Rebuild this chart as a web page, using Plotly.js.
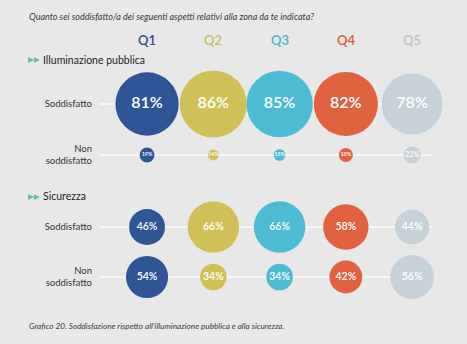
<!DOCTYPE html>
<html>
<head>
<meta charset="utf-8">
<script src="https://cdn.plot.ly/plotly-3.0.1.min.js"></script>
<style>html,body{margin:0;padding:0;background:#e8e8e8;}#chart{width:467px;height:344px;}</style>
</head>
<body>
<div id="chart"></div>
<script>
const quarters = ['Q1', 'Q2', 'Q3', 'Q4', 'Q5'];
const rowLabels = ['Soddisfatto', 'Non<br>soddisfatto'];
const sectionTitles = ['Illuminazione pubblica', 'Sicurezza'];
const illumSodd = [81, 86, 85, 82, 78];
const illumNon = [19, 14, 15, 18, 22];
const sicSodd = [46, 66, 66, 58, 44];
const sicNon = [54, 34, 34, 42, 56];
const titleText = 'Quanto sei soddisfatto/a dei seguenti aspetti relativi alla zona da te indicata?';
const footText = 'Grafico 20. Soddisfazione rispetto all\u2019illuminazione pubblica e alla sicurezza.';

const colors = ['#2f5597', '#cfc158', '#4dbbd3', '#e0623f', '#c6d2d7'];
const headColors = ['#2e4a8a', '#c9bb55', '#4ab3cc', '#de5a3a', '#b8c3c8'];
const W = 467, H = 344;
const FONT = 'Lato, "Open Sans", sans-serif';

function makeTrace(sodd, non, big, yaxis) {
  const x = quarters.concat(quarters);
  const y = quarters.map(() => 0).concat(quarters.map(() => 1));
  const vals = sodd.concat(non);
  const fs = vals.map(v => big ? (v >= 50 ? 16 : (v >= 20 ? 7 : 5.5)) : 10.5);
  return {
    type: 'scatter', mode: 'markers+text', x: x, y: y, yaxis: yaxis, xaxis: 'x',
    text: vals.map(v => v + '%'),
    textposition: 'middle center',
    textfont: {color: '#ffffff', size: fs, family: FONT, weight: 600},
    marker: {size: vals, sizemode: 'diameter', sizeref: 1.28,
             color: colors.concat(colors), opacity: 1, line: {width: 0}},
    cliponaxis: false, hoverinfo: 'skip', showlegend: false
  };
}

const data = [
  makeTrace(illumSodd, illumNon, true, 'y'),
  makeTrace(sicSodd, sicNon, false, 'y2')
];

const yax = (dom) => ({
  domain: dom, range: [1.5, -0.5], tickvals: [0, 1], ticktext: rowLabels,
  showgrid: true, gridcolor: '#f6f6f6', gridwidth: 1.5, zeroline: false,
  showline: false, ticks: '', ticklabelstandoff: 7,
  tickfont: {family: FONT, size: 9.5, color: '#333333'}
});

const annotations = [];
quarters.forEach((q, i) => annotations.push({
  xref: 'x', yref: 'paper', x: q, y: 1 - 40 / H, text: q, showarrow: false,
  xanchor: 'center', yanchor: 'middle',
  font: {family: FONT, size: 13, color: headColors[i], weight: 600}
}));
const secY = [60, 196];
sectionTitles.forEach((t, i) => {
  annotations.push({xref: 'paper', yref: 'paper', x: 26 / W, y: 1 - secY[i] / H,
    text: '\u25B6\u25B6', showarrow: false, xanchor: 'left', yanchor: 'middle',
    font: {family: 'DejaVu Sans', size: 7.5, color: '#5cbdb3'}});
  annotations.push({xref: 'paper', yref: 'paper', x: 41 / W, y: 1 - secY[i] / H,
    text: t, showarrow: false, xanchor: 'left', yanchor: 'middle',
    font: {family: FONT, size: 10.5, color: '#1e1e1e', weight: 400}});
});
annotations.push({xref: 'paper', yref: 'paper', x: 27 / W, y: 1 - 17 / H, text: titleText,
  showarrow: false, xanchor: 'left', yanchor: 'middle',
  font: {family: FONT, size: 9, color: '#3a3a3a', style: 'italic'}});
annotations.push({xref: 'paper', yref: 'paper', x: 27 / W, y: 1 - 326 / H, text: footText,
  showarrow: false, xanchor: 'left', yanchor: 'middle',
  font: {family: FONT, size: 8.2, color: '#3a3a3a', style: 'italic'}});

const layout = {
  width: W, height: H, margin: {l: 0, r: 0, t: 0, b: 0},
  paper_bgcolor: '#e8e8e8', plot_bgcolor: 'rgba(0,0,0,0)',
  xaxis: {domain: [100 / W, 432 / W], type: 'category', categoryarray: quarters,
          range: [-0.71, 4.3], showticklabels: false, showgrid: false, zeroline: false,
          showline: false, ticks: '', anchor: 'y'},
  yaxis: yax([1 - 180.5 / H, 1 - 78.5 / H]),
  yaxis2: Object.assign(yax([1 - 302 / H, 1 - 202 / H]), {anchor: 'x'}),
  annotations: annotations,
  font: {family: FONT}
};

Plotly.newPlot('chart', data, layout, {displayModeBar: false, staticPlot: true});
</script>
</body>
</html>
